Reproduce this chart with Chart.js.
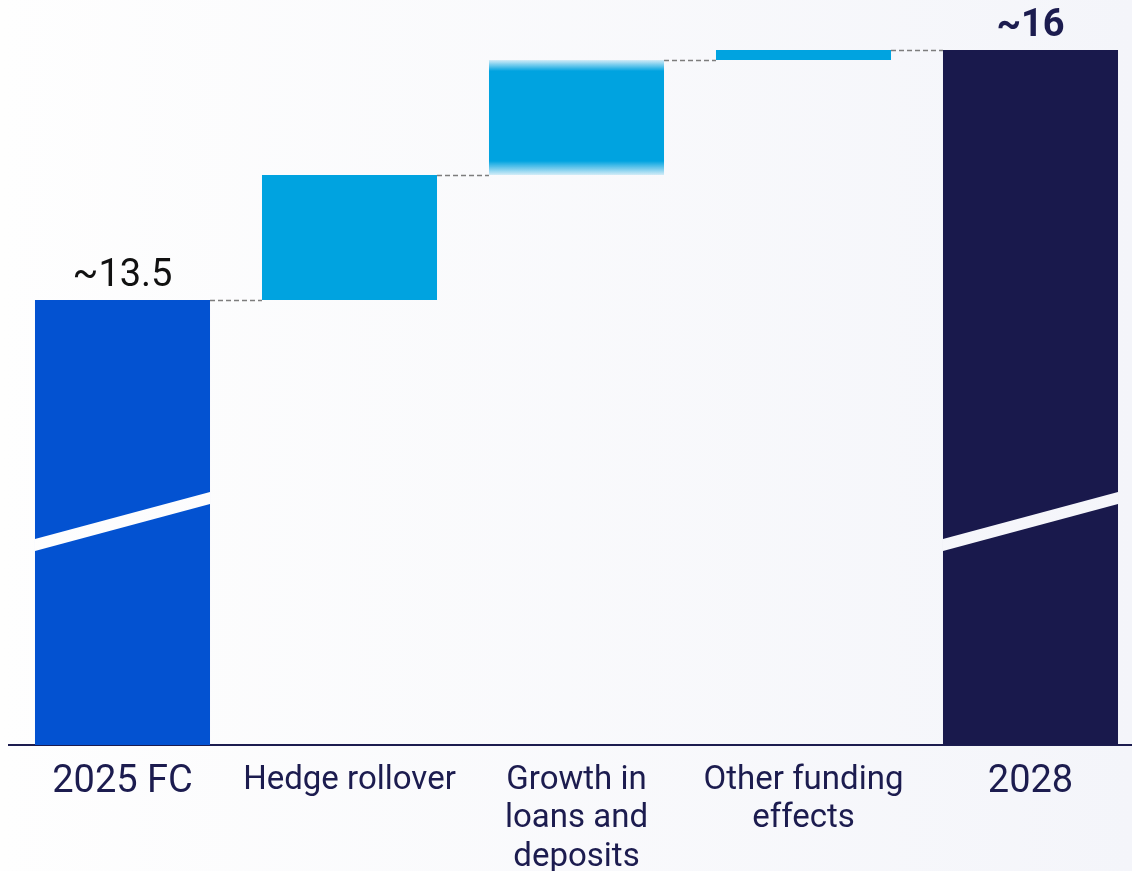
<!DOCTYPE html>
<html>
<head>
<meta charset="utf-8">
<script src="https://cdn.jsdelivr.net/npm/chart.js@4/dist/chart.umd.min.js"></script>
<style>
  html, body { margin: 0; padding: 0; overflow: hidden; }
  body { width: 1132px; height: 871px; background: linear-gradient(to right, #fefefe, #f4f5fa); }
  #bridge { display: block; }
</style>
</head>
<body>
<canvas id="bridge" width="1144" height="871"></canvas>
<script>
// NII bridge, 2025 forecast to 2028
var categories = ['2025 FC', 'Hedge rollover', ['Growth in', 'loans and', 'deposits'], ['Other funding', 'effects'], '2028'];
var startValue = 13.5;
var steps = [1.25, 1.15, 0.1];
var endValue = 16;
var valueLabels = ['~13.5', '', '', '', '~16'];

// axis is cut: bottom of the plot sits well above zero
var yMin = 9.05, yMax = 16.5;
var breakLeft = 11.05, breakRight = 11.52;

var colors = ['#0352d1', '#00a3e0', '#00a3e0', '#00a3e0', '#19194c'];
var navy = '#1c1c4f';

// floating bars: totals from the axis floor, steps stacked on the running sum
var bars = [[yMin, startValue]];
var tops = [startValue];
var run = startValue;
for (var i = 0; i < steps.length; i++) {
  bars.push([run, run + steps[i]]);
  run += steps[i];
  tops.push(run);
}
bars.push([yMin, endValue]);

// growth bar has soft top and bottom edges
function barColor(ctx) {
  var chart = ctx.chart;
  if (ctx.dataIndex !== 2 || !chart.chartArea) return colors[ctx.dataIndex];
  var y = chart.scales.y;
  var top = y.getPixelForValue(bars[2][1]), bottom = y.getPixelForValue(bars[2][0]);
  var h = bottom - top;
  var g = chart.ctx.createLinearGradient(0, top, 0, bottom);
  g.addColorStop(0, 'rgba(0,163,224,0.15)');
  g.addColorStop(11 / h, 'rgba(0,163,224,1)');
  g.addColorStop(1 - 14 / h, 'rgba(0,163,224,1)');
  g.addColorStop(1, 'rgba(0,163,224,0.15)');
  return g;
}

var bridgeExtras = {
  id: 'bridgeExtras',
  afterDatasetsDraw: function (chart) {
    var ctx = chart.ctx;
    var y = chart.scales.y;
    var els = chart.getDatasetMeta(0).data;

    // dashed connectors between neighbouring bars
    ctx.save();
    ctx.strokeStyle = '#7d7d7d';
    ctx.lineWidth = 1.3;
    ctx.setLineDash([5, 3]);
    for (var i = 0; i < tops.length; i++) {
      var a = els[i], b = els[i + 1];
      var py = Math.round(y.getPixelForValue(tops[i])) + 0.5;
      ctx.beginPath();
      ctx.moveTo(a.x + a.width / 2, py);
      ctx.lineTo(b.x - b.width / 2, py);
      ctx.stroke();
    }
    ctx.restore();

    // axis break stripe through the two total bars
    ctx.save();
    ctx.globalCompositeOperation = 'destination-out';
    [0, 4].forEach(function (idx) {
      var el = els[idx];
      var l = el.x - el.width / 2, r = el.x + el.width / 2;
      var yl = y.getPixelForValue(breakLeft), yr = y.getPixelForValue(breakRight);
      var half = 5.9;
      ctx.beginPath();
      ctx.moveTo(l, yl - half);
      ctx.lineTo(r, yr - half);
      ctx.lineTo(r, yr + half);
      ctx.lineTo(l, yl + half);
      ctx.closePath();
      ctx.fill();
    });
    ctx.restore();

    // value labels above the totals
    ctx.save();
    ctx.textAlign = 'center';
    ctx.textBaseline = 'alphabetic';
    els.forEach(function (el, idx) {
      if (!valueLabels[idx]) return;
      if (idx === 4) {
        ctx.font = 'bold 38px Roboto';
        ctx.fillStyle = navy;
      } else {
        ctx.font = '38px Roboto';
        ctx.fillStyle = '#111111';
      }
      ctx.fillText(valueLabels[idx], el.x, el.y - 14);
    });
    ctx.restore();
  }
};

new Chart(document.getElementById('bridge').getContext('2d'), {
  type: 'bar',
  data: {
    labels: categories,
    datasets: [{
      data: bars,
      backgroundColor: barColor,
      borderWidth: 0,
      borderSkipped: false,
      categoryPercentage: 1,
      barPercentage: 0.771
    }]
  },
  options: {
    responsive: false,
    animation: false,
    layout: { padding: { left: 9, top: 0, right: 0, bottom: 0 } },
    plugins: { legend: { display: false }, tooltip: { enabled: false } },
    scales: {
      x: {
        grid: { display: false, drawTicks: false },
        border: { display: true, color: navy, width: 2 },
        ticks: {
          padding: 16,
          color: navy,
          maxRotation: 0,
          autoSkip: false,
          font: function (ctx) {
            var big = ctx.index === 0 || ctx.index === 4;
            return big ? { family: 'Roboto', size: 38, lineHeight: '42px' }
                       : { family: 'Roboto', size: 33, lineHeight: '38.5px' };
          }
        },
        afterFit: function (scale) { scale.height = 126; }
      },
      y: { display: false, min: yMin, max: yMax }
    }
  },
  plugins: [bridgeExtras]
});
</script>
</body>
</html>
